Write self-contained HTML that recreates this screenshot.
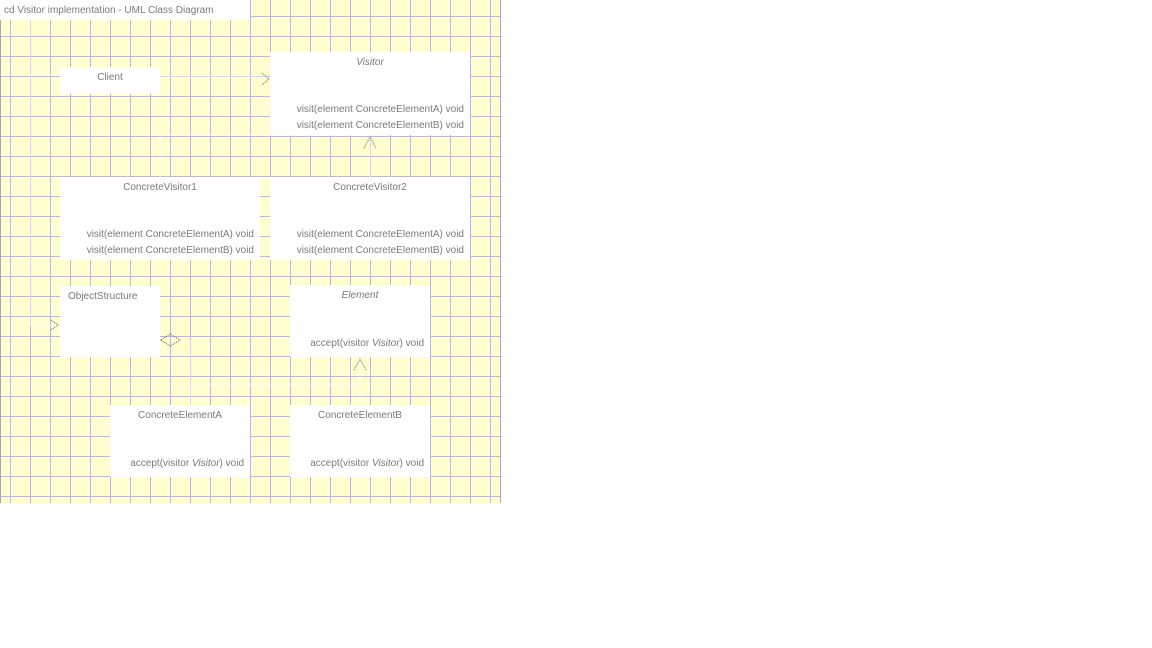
<!DOCTYPE html>
<html><head><meta charset="utf-8"><style>
html,body{margin:0;padding:0;width:1152px;height:648px;background:#fff;overflow:hidden}
#d{position:absolute;left:0;top:0;width:501px;height:503px;background-color:#ffffd0;
background-image:linear-gradient(90deg,transparent 10px,#c0b8c8 10px,#c0b8c8 11px,transparent 11px),linear-gradient(180deg,transparent 16px,#c0b8c8 16px,#c0b8c8 17px,transparent 17px);
background-size:20px 20px,20px 20px;border-right:1px solid #b0a8b8;box-sizing:border-box}
#edge{position:absolute;left:0;top:0;width:1px;height:503px;background:#a8a8a0}
.b{position:absolute;background:#fff;font:10px "Liberation Sans",sans-serif;color:#7a7a7a}
.t{position:absolute;left:0;right:0;text-align:center;top:5px}
.m{position:absolute;right:6px;white-space:nowrap}
i{font-style:italic}
#title{position:absolute;left:0;top:0;width:250px;height:20px;background:#fff;font:10px "Liberation Sans",sans-serif;color:#7a7a7a;line-height:22px;padding-left:4px;box-sizing:border-box}
svg{position:absolute;left:0;top:0}
</style></head><body>
<div id="d">
<svg width="500" height="503">
<g stroke="#fff" stroke-width="1" fill="none" opacity="0.8">
<path d="M30 20 V75 H60"/><path d="M160 77 H268"/>
<path d="M370 135 V177"/><path d="M160 135 H370 M160 135 V177"/>
<path d="M30 75 V325 H58"/>
<path d="M180 340 H190 V385 H360 V357"/><path d="M190 385 V405"/><path d="M360 385 V405"/>
</g>
<g stroke="#666" stroke-width="1" fill="none" stroke-dasharray="1,1">
<path d="M262 73 L269 79 L262 85"/><path d="M364 148 L370 137 L376 148"/>
<path d="M51 320 L58 325 L51 330"/><path d="M354 370 L360 359 L366 370"/>
<path d="M161 340 L170 334 L180 340 L170 346 Z"/>
</g>
</svg>
<div id="edge"></div>
<div id="title">cd Visitor implementation - UML Class Diagram</div>
<div class="b" style="left:60px;top:67px;width:100px;height:27px"><div class="t">Client</div></div>
<div class="b" style="left:270px;top:52px;width:200px;height:83px"><div class="t"><i>Visitor</i></div><div class="m" style="top:52px">visit(element ConcreteElementA) void</div><div class="m" style="top:68px">visit(element ConcreteElementB) void</div></div>
<div class="b" style="left:60px;top:177px;width:200px;height:83px"><div class="t">ConcreteVisitor1</div><div class="m" style="top:52px">visit(element ConcreteElementA) void</div><div class="m" style="top:68px">visit(element ConcreteElementB) void</div></div>
<div class="b" style="left:270px;top:177px;width:200px;height:83px"><div class="t">ConcreteVisitor2</div><div class="m" style="top:52px">visit(element ConcreteElementA) void</div><div class="m" style="top:68px">visit(element ConcreteElementB) void</div></div>
<div class="b" style="left:60px;top:286px;width:100px;height:71px"><div class="t" style="text-align:left;left:8px">ObjectStructure</div></div>
<div class="b" style="left:290px;top:285px;width:140px;height:72px"><div class="t"><i>Element</i></div><div class="m" style="top:53px">accept(visitor <i>Visitor</i>) void</div></div>
<div class="b" style="left:110px;top:405px;width:140px;height:72px"><div class="t">ConcreteElementA</div><div class="m" style="top:53px">accept(visitor <i>Visitor</i>) void</div></div>
<div class="b" style="left:290px;top:405px;width:140px;height:72px"><div class="t">ConcreteElementB</div><div class="m" style="top:53px">accept(visitor <i>Visitor</i>) void</div></div>
</div>
</body></html>
